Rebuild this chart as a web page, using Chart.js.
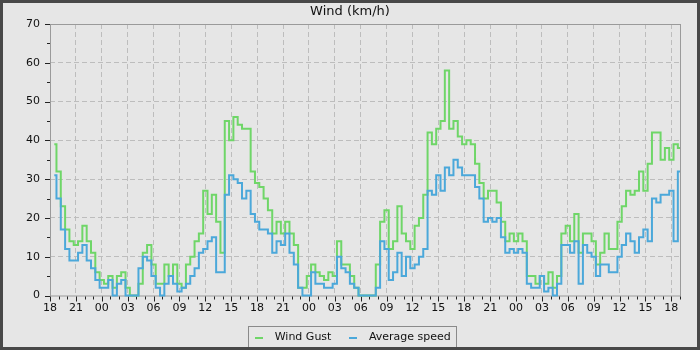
<!DOCTYPE html>
<html>
<head>
<meta charset="utf-8">
<title>Wind (km/h)</title>
<script src="https://cdn.jsdelivr.net/npm/chart.js@4.4.1/dist/chart.umd.min.js"></script>
<style>
  html, body { margin: 0; padding: 0; background: #e6e6e6; }
  #wrap { width: 700px; height: 350px; box-sizing: border-box; border: 3px solid #484848; background: #e6e6e6; }
  canvas { display: block; }
</style>
</head>
<body>
<div id="wrap"><canvas id="windChart" width="694" height="344"></canvas></div>
<script>
// half-hourly readings, hours counted from 18:00 on the first day
var startHour = 18;
var firstHour = 0.5;
var step = 0.5;

var gust = [
  39,32,23,17,14,13,14,18,14,11,6,4,
  3,5,2,5,6,2,0,0,3,11,13,8,
  3,3,8,5,8,3,2,8,10,14,16,27,
  21,26,19,11,45,40,46,44,43,43,32,29,
  28,25,22,16,19,16,19,16,13,2,2,5,
  8,6,5,4,6,5,14,8,8,5,2,0,
  0,0,0,8,19,22,12,14,23,16,14,12,
  18,20,26,42,39,43,45,58,43,45,41,39,
  40,39,34,29,25,27,27,24,19,14,16,14,
  16,14,5,5,3,5,3,6,2,5,16,18,
  14,21,11,16,16,14,8,11,16,12,12,19,
  23,27,26,27,32,27,34,42,42,35,38,35,
  39,38
];

var avgSpeed = [
  31,25,17,12,9,9,11,13,9,7,4,2,
  2,4,0,3,4,0,0,0,7,10,9,5,
  2,0,3,5,3,1,2,3,5,7,11,12,
  14,15,6,6,26,31,30,29,25,27,21,19,
  17,17,16,11,14,13,16,11,8,2,0,0,
  6,3,3,2,2,3,10,7,6,3,2,0,
  0,0,0,2,14,12,4,6,11,5,10,7,
  8,10,12,27,26,31,27,33,31,35,33,31,
  31,31,28,25,19,20,19,20,15,11,12,11,
  12,11,3,2,2,5,1,2,0,3,13,13,
  11,14,3,13,11,10,5,8,8,6,6,10,
  13,16,14,11,15,17,14,25,24,26,26,27,
  14,32
];

var seriesNames = ["Wind Gust", "Average speed"];
var seriesColors = ["#6fd668", "#4ba8da"];

var hours = [];
for (var i = 0; i < gust.length; i++) hours.push(firstHour + i * step);

function pts(vals) {
  return vals.map(function(v, i){ return {x: hours[i], y: v}; });
}

// little line swatch for the legend
function swatch(color) {
  var c = document.createElement("canvas");
  c.width = 8; c.height = 2;
  var g = c.getContext("2d");
  g.fillStyle = color;
  g.fillRect(0, 0, 8, 2);
  return c;
}

var frame = {
  id: "frame",
  beforeDatasetsDraw: function(chart) {
    var ctx = chart.ctx, a = chart.chartArea, x = chart.scales.x, y = chart.scales.y;
    ctx.save();
    ctx.lineWidth = 1;
    ctx.strokeStyle = "#9a9a9a";
    ctx.strokeRect(a.left + 0.5, a.top + 0.5, a.right - a.left, a.bottom - a.top);
    ctx.strokeStyle = "#222";
    ctx.beginPath();
    x.ticks.forEach(function(t){
      var px = Math.round(x.getPixelForValue(t.value)) + 0.5;
      var len = t.value % 3 === 0 ? 5 : 3;
      ctx.moveTo(px, a.bottom + 1);
      ctx.lineTo(px, a.bottom + 1 + len);
    });
    y.ticks.forEach(function(t){
      var py = Math.round(y.getPixelForValue(t.value)) + 0.5;
      var len = t.value % 10 === 0 ? 5 : 3;
      ctx.moveTo(a.left - len, py);
      ctx.lineTo(a.left, py);
    });
    ctx.stroke();
    ctx.restore();
  },
  afterDraw: function(chart) {
    var hb = chart.legend.legendHitBoxes;
    if (!hb || !hb.length) return;
    var ctx = chart.ctx;
    var last = hb[hb.length - 1];
    var l = Math.round(hb[0].left - 1), r = Math.round(last.left + last.width + 5);
    var t = Math.round(hb[0].top - 6), b = Math.round(hb[0].top + hb[0].height + 4);
    ctx.save();
    ctx.strokeStyle = "#8a8a8a";
    ctx.lineWidth = 1;
    ctx.strokeRect(l + 0.5, t + 0.5, r - l, b - t);
    ctx.restore();
  }
};

Chart.defaults.font.family = "'DejaVu Sans', sans-serif";
Chart.defaults.font.size = 11;
Chart.defaults.color = "#111";

new Chart("windChart", {
  type: "line",
  data: {
    datasets: [{
      label: seriesNames[0],
      data: pts(gust),
      borderColor: seriesColors[0],
      backgroundColor: seriesColors[0],
      pointStyle: swatch(seriesColors[0]),
      order: 1
    }, {
      label: seriesNames[1],
      data: pts(avgSpeed),
      borderColor: seriesColors[1],
      backgroundColor: seriesColors[1],
      pointStyle: swatch(seriesColors[1]),
      order: 0
    }]
  },
  options: {
    responsive: false,
    animation: false,
    events: [],
    layout: { padding: { left: 17, right: 17, top: 0, bottom: -6 } },
    elements: {
      line: { borderWidth: 2, stepped: "middle", tension: 0, fill: false },
      point: { radius: 0 }
    },
    datasets: { line: { clip: 3 } },
    scales: {
      x: {
        type: "linear",
        min: 0,
        max: 73,
        afterFit: function(s){ s.height = 24.5; },
        border: { display: false, dash: [5, 3] },
        grid: {
          drawTicks: false,
          color: function(c){
            var v = c.tick.value;
            return (v % 3 === 0 && v > 0 && v < 73) ? "#bdbdbd" : "rgba(0,0,0,0)";
          }
        },
        ticks: {
          stepSize: 1,
          autoSkip: false,
          maxRotation: 0,
          padding: 6,
          callback: function(v){
            if (v % 3 !== 0) return "";
            return String((startHour + v) % 24).padStart(2, "0");
          }
        }
      },
      y: {
        min: 0,
        max: 70,
        afterFit: function(s){ s.width = 30; },
        border: { display: false, dash: [5, 3] },
        grid: {
          drawTicks: false,
          color: function(c){
            var v = c.tick.value;
            return (v % 10 === 0 && v > 0 && v < 70) ? "#bdbdbd" : "rgba(0,0,0,0)";
          }
        },
        ticks: {
          stepSize: 5,
          padding: 10,
          callback: function(v){ return v % 10 === 0 ? v : ""; }
        }
      }
    },
    plugins: {
      title: {
        display: true,
        text: "Wind (km/h)",
        color: "#111",
        font: { size: 13, weight: "normal" },
        padding: { top: 1, bottom: 4.4 }
      },
      legend: {
        position: "bottom",
        labels: {
          usePointStyle: true,
          pointStyleWidth: 20,
          boxHeight: 11,
          padding: 12,
          color: "#111",
          font: { size: 11 },
          sort: function(a, b){ return a.datasetIndex - b.datasetIndex; }
        }
      },
      tooltip: { enabled: false }
    }
  },
  plugins: [frame]
});
</script>
</body>
</html>
